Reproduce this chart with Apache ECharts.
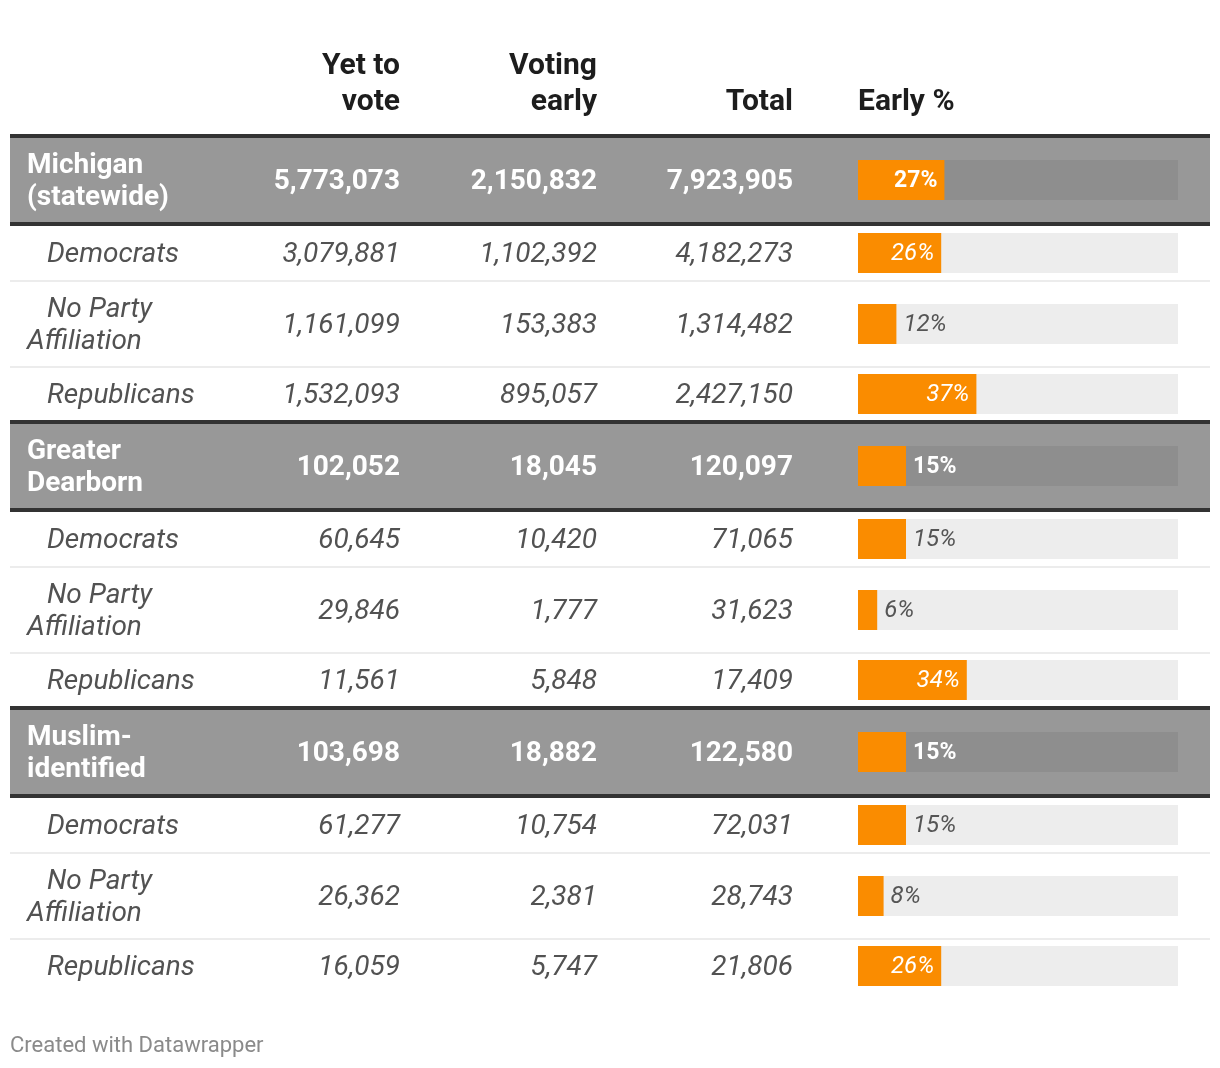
<!DOCTYPE html>
<html><head><meta charset="utf-8">
<script src="https://cdn.jsdelivr.net/npm/echarts@6/dist/echarts.min.js"></script>
<style>html,body{margin:0;padding:0;background:#fff}#chart{width:1220px;height:1068px}</style>
</head><body><div id="chart"></div>
<script>
// ---------- DATA ----------
const rowLabels = ['Michigan\n(statewide)','Democrats','No Party\nAffiliation','Republicans',
  'Greater\nDearborn','Democrats','No Party\nAffiliation','Republicans',
  'Muslim-\nidentified','Democrats','No Party\nAffiliation','Republicans'];
const rowIsGroup = [true,false,false,false,true,false,false,false,true,false,false,false];
const yetToVote   = [5773073,3079881,1161099,1532093,102052,60645,29846,11561,103698,61277,26362,16059];
const votingEarly = [2150832,1102392,153383,895057,18045,10420,1777,5848,18882,10754,2381,5747];
const totalVoters = [7923905,4182273,1314482,2427150,120097,71065,31623,17409,122580,72031,28743,21806];
const earlyPct    = [27,26,12,37,15,15,6,34,15,15,8,26];
const columnTitles = ['Yet to\nvote','Voting\nearly','Total','Early %'];
const footerText = 'Created with Datawrapper';

// ---------- LAYOUT ----------
const FONT = 'Roboto, "Noto Sans", sans-serif';
const TABLE_TOP = 134, TABLE_LEFT = 10, TABLE_W = 1200;
const TXT_DY = 2;
const rows = [];
let yy = 0;
for (let i = 0; i < rowLabels.length; i++) {
  const nLines = rowLabels[i].split('\n').length;
  if (rowIsGroup[i]) {
    rows.push({top: yy, bgTop: yy + 4, bgBot: yy + 88, bot: yy + 92, center: yy + 46});
    yy += 92;
  } else {
    const nextIsGroup = (i + 1 >= rowLabels.length) || rowIsGroup[i + 1];
    const h = (nLines > 1 ? 84 : 54) - (nextIsGroup ? 2 : 0);
    rows.push({top: yy, bot: yy + h, center: yy + h / 2, thin: !nextIsGroup});
    yy += h + (nextIsGroup ? 0 : 2);
  }
}
const TABLE_H = yy;
const fmt = v => v.toLocaleString('en-US');
const numRight = [390, 587, 783]; // right edges of number columns (table units)

const chart = echarts.init(document.getElementById('chart'), null, {renderer: 'canvas'});

function renderTable(params, api) {
  const i = params.dataIndex;
  const r = rows[i];
  const g = rowIsGroup[i];
  const children = [];
  const x0 = api.coord([0, 0])[0], x1 = api.coord([1200, 0])[0];
  if (g) {
    const a = api.coord([0, r.top]), b = api.coord([0, r.bgTop]), c = api.coord([0, r.bgBot]), d = api.coord([0, r.bot]);
    children.push({type: 'rect', shape: {x: x0, y: b[1], width: x1 - x0, height: c[1] - b[1]}, style: {fill: '#989898'}});
    children.push({type: 'rect', shape: {x: x0, y: a[1], width: x1 - x0, height: b[1] - a[1]}, style: {fill: '#333333'}});
    children.push({type: 'rect', shape: {x: x0, y: c[1], width: x1 - x0, height: d[1] - c[1]}, style: {fill: '#333333'}});
  } else if (r.thin) {
    const a = api.coord([0, r.bot]);
    children.push({type: 'rect', shape: {x: x0, y: a[1], width: x1 - x0, height: 2}, style: {fill: '#ececec'}});
  }
  const cy = api.coord([0, r.center])[1] + TXT_DY;
  const fontLbl = (g ? 'bold 28px ' : 'italic 28px ') + FONT;
  const color = g ? '#ffffff' : '#525252';
  const lines = rowLabels[i].split('\n');
  const lh = 32;
  lines.forEach((ln, k) => {
    const off = (k - (lines.length - 1) / 2) * lh;
    const indent = (!g && k === 0) ? 37 : 17;
    children.push({type: 'text', x: api.coord([indent, 0])[0], y: cy + off,
      style: {text: ln, fill: color, font: fontLbl, align: 'left', verticalAlign: 'middle'}});
  });
  const vals = [yetToVote[i], votingEarly[i], totalVoters[i]];
  vals.forEach((v, k) => {
    children.push({type: 'text', x: api.coord([numRight[k], 0])[0], y: cy,
      style: {text: fmt(v), fill: color, font: fontLbl, align: 'right', verticalAlign: 'middle'}});
  });
  return {type: 'group', children};
}

function renderBar(params, api) {
  const i = params.dataIndex;
  const g = rowIsGroup[i];
  const v = api.value(0);
  const c = api.value(1);
  const p0 = api.coord([0, c]);
  const p1 = api.coord([v, c]);
  const pf = api.coord([100, c]);
  const h = 40;
  const children = [
    {type: 'rect', shape: {x: p0[0], y: p0[1] - h / 2, width: pf[0] - p0[0], height: h}, style: {fill: g ? '#8e8e8e' : '#ededed'}},
    {type: 'rect', shape: {x: p0[0], y: p0[1] - h / 2, width: p1[0] - p0[0], height: h}, style: {fill: '#fa8c00'}}
  ];
  const inside = v >= 20;
  const font = (g ? 'bold 23px ' : 'italic 24px ') + FONT;
  children.push({type: 'text', x: inside ? p1[0] - 7 : p1[0] + 7, y: p0[1] + 1,
    style: {text: v + '%', font, fill: (inside || g) ? '#ffffff' : '#555555',
      align: inside ? 'right' : 'left', verticalAlign: 'middle'}});
  return {type: 'group', children};
}

const graphics = [];
const titleX = [400, 597, 793, 858];
columnTitles.forEach((t, k) => {
  const lines = t.split('\n');
  lines.forEach((ln, j) => {
    graphics.push({type: 'text', x: titleX[k], y: 102 - (lines.length - 1 - j) * 36,
      style: {text: ln, fill: '#1d1d1d', font: 'bold 30px ' + FONT, align: k < 3 ? 'right' : 'left', verticalAlign: 'middle'}});
  });
});
graphics.push({type: 'text', x: 10, y: 1046, style: {text: footerText, fill: '#8a8a8a', font: '22px ' + FONT, align: 'left', verticalAlign: 'middle'}});

chart.setOption({
  animation: false,
  backgroundColor: '#ffffff',
  grid: [
    {left: TABLE_LEFT, top: TABLE_TOP, width: TABLE_W, height: TABLE_H},
    {left: 858, top: TABLE_TOP, width: 320, height: TABLE_H}
  ],
  xAxis: [
    {type: 'value', gridIndex: 0, min: 0, max: 1200, show: false},
    {type: 'value', gridIndex: 1, min: 0, max: 100, show: false}
  ],
  yAxis: [
    {type: 'value', gridIndex: 0, min: 0, max: TABLE_H, inverse: true, show: false},
    {type: 'value', gridIndex: 1, min: 0, max: TABLE_H, inverse: true, show: false}
  ],
  series: [
    {type: 'custom', xAxisIndex: 0, yAxisIndex: 0, clip: false, renderItem: renderTable,
      data: rows.map((r, i) => [0, r.center]), z: 1},
    {type: 'custom', xAxisIndex: 1, yAxisIndex: 1, clip: false, renderItem: renderBar,
      data: earlyPct.map((v, i) => [v, rows[i].center]), z: 2}
  ],
  graphic: graphics
});
</script></body></html>
